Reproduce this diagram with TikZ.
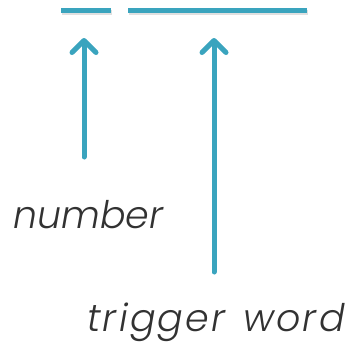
\documentclass[tikz,border=0pt]{standalone}
\usepackage{fontspec}
\setmainfont{Poppins}[UprightFont=* Light, ItalicFont=* Light Italic]
\usetikzlibrary{arrows.meta}
\definecolor{teal1}{RGB}{58,164,190}
\definecolor{txt}{RGB}{50,50,50}
\begin{document}
\begin{tikzpicture}[x=1pt,y=-1pt,
  bar/.style={line width=5pt,draw=teal1},
  shadowbar/.style={line width=5pt,draw=black!12},
  uparrow/.style={line width=5pt,draw=teal1,line cap=round,
    -{Straight Barb[length=12pt,width=24pt,line cap=round,line join=round]}},
  lbl/.style={font=\itshape\fontsize{38}{40}\selectfont,text=txt,inner sep=0pt,anchor=base west}]
\useasboundingbox (0,0) rectangle (355,343);
% bars
\coordinate (b1l) at (61,10); \coordinate (b1r) at (111,10);
\coordinate (b2l) at (128,10); \coordinate (b2r) at (307,10);
\draw[shadowbar] ([shift={(1,2)}]b1l) -- ([shift={(1,2)}]b1r);
\draw[shadowbar] ([shift={(1,2)}]b2l) -- ([shift={(1,2)}]b2r);
\draw[bar] (b1l) -- (b1r);
\draw[bar] (b2l) -- (b2r);
% arrows
\coordinate (a1s) at (84,157); \coordinate (a1e) at (84,38);
\coordinate (a2s) at (214,272); \coordinate (a2e) at (214,38);
\draw[uparrow] (a1s) -- (a1e);
\draw[uparrow] (a2s) -- (a2e);
% labels
\node[lbl] (num) at (13,228) {number};
\node[lbl] (trig) at (87,331) {\addfontfeature{LetterSpace=6}trigger\hspace{4pt} word};
\end{tikzpicture}
\end{document}
